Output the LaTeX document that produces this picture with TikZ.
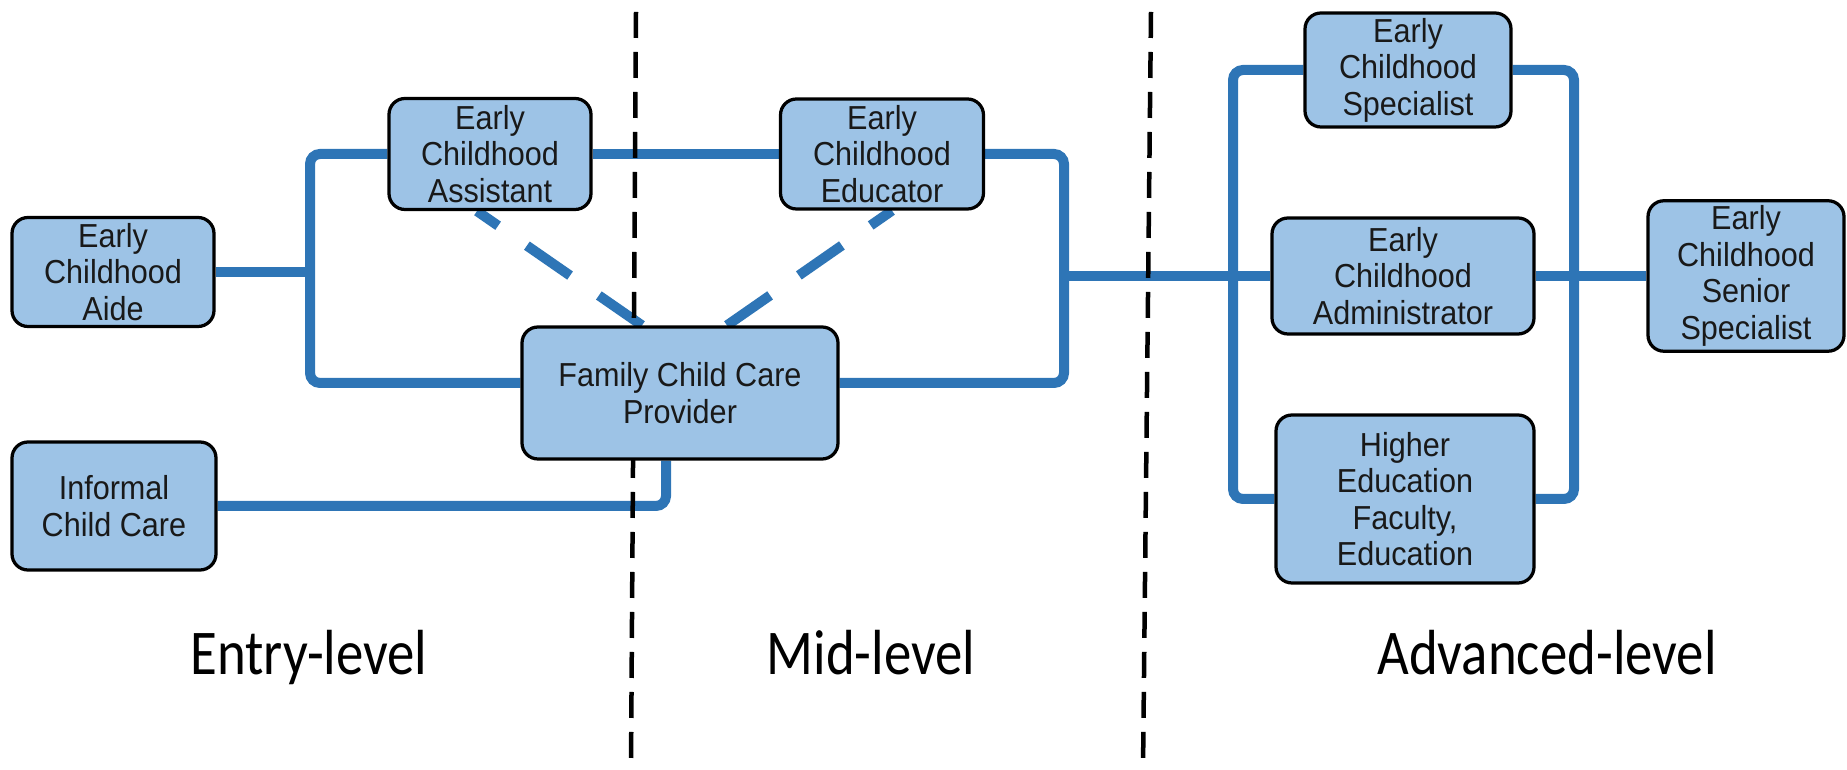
\documentclass[tikz,border=0pt]{standalone}
\usepackage{fontspec}
\newfontfamily\boxfont[FakeStretch=0.92]{Liberation Sans}
\newfontfamily\levelfont[FakeStretch=0.86]{Carlito}
\pgfdeclarelayer{bg}
\pgfdeclarelayer{mid}
\pgfsetlayers{bg,mid,main}
\definecolor{boxfill}{HTML}{9DC3E6}
\definecolor{pathblue}{HTML}{2E75B6}
\begin{document}
\begin{tikzpicture}[x=0.4pt,y=-0.4pt,
  career/.style={draw=black, line width=1.3pt, fill=boxfill, rounded corners=6.4pt,
    align=center, inner sep=2pt, text=black!90,
    font=\boxfont\fontsize{13.3}{14.6}\selectfont},
  conn/.style={draw=pathblue, line width=4pt},
  link/.style={draw=pathblue, line width=4pt, dash pattern=on 21pt off 14pt},
  divider/.style={draw=black, line width=1.8pt, dash pattern=on 10.4pt off 5.6pt},
  level/.style={anchor=base, font=\levelfont\fontsize{25.5}{30}\selectfont}]
\useasboundingbox (0,0) rectangle (1847,770);

% career stages
\node[career, minimum width=202*0.4pt, minimum height=109*0.4pt] (aide) at (113,272) {Early\\Childhood\\Aide};
\node[career, minimum width=202*0.4pt, minimum height=111*0.4pt] (assist) at (490,154) {Early\\Childhood\\Assistant};
\node[career, minimum width=203*0.4pt, minimum height=110*0.4pt] (educ) at (882,154) {Early\\Childhood\\Educator};
\node[career, minimum width=316*0.4pt, minimum height=132*0.4pt] (fcc) at (680,393) {Family Child Care\\Provider};
\node[career, minimum width=204*0.4pt, minimum height=128*0.4pt] (informal) at (114,506) {Informal\\Child Care};
\node[career, minimum width=206*0.4pt, minimum height=114*0.4pt] (spec) at (1408,70) {Early\\Childhood\\Specialist};
\node[career, minimum width=262*0.4pt, minimum height=116*0.4pt] (admin) at (1403,276) {Early\\Childhood\\Administrator};
\node[career, minimum width=258*0.4pt, minimum height=168*0.4pt] (higher) at (1405,499) {Higher\\Education\\Faculty,\\Education};
\node[career, minimum width=196*0.4pt, minimum height=145*0.4pt] (senior) at (1746,276) {Early\\Childhood\\Senior\\Specialist};

% level labels
\node[level] (entry) at (309,675) {Entry-level};
\node[level] (midl) at (871,675) {Mid-level};
\node[level] (adv) at (1547,675) {Advanced-level};

% junction points of the pathways
\coordinate (ltrunk) at (310,272);
\coordinate (rtrunk) at (1064,276);
\coordinate (gleft) at (1233,276);
\coordinate (gright) at (1574,276);

% level dividers
\coordinate (d1top) at (636,12);
\coordinate (d1bot) at (631,770);
\coordinate (d2top) at (1151,12);
\coordinate (d2bot) at (1143,770);
\begin{pgfonlayer}{mid}
  \draw[divider] (d1top) -- (d1bot);
  \draw[divider] (d2top) -- (d2bot);
\end{pgfonlayer}

% pathways
\begin{pgfonlayer}{bg}
  \draw[conn] (aide.east) -- (ltrunk);
  \draw[conn, rounded corners=4pt] (assist.west) -| (ltrunk) |- ([yshift=4pt]fcc.west);
  \draw[conn] (assist.east) -- (educ.west);
  \draw[conn, rounded corners=4pt] (educ.east) -| (rtrunk) |- ([yshift=4pt]fcc.east);
  \draw[conn, rounded corners=4pt] (informal.east) -| ([xshift=-5.6pt]fcc.south);
  \draw[conn] (rtrunk) -- (admin.west);
  \draw[conn, rounded corners=4pt] (spec.west) -| (gleft) |- (higher.west);
  \draw[conn, rounded corners=4pt] (spec.east) -| (gright) |- (higher.east);
  \draw[conn] (admin.east) -- (senior.west);
  \draw[link] ([xshift=-15.2pt]fcc.north) -- ([xshift=-5.2pt]assist.south);
  \draw[link] ([xshift=18.8pt]fcc.north) -- ([xshift=4pt]educ.south);
\end{pgfonlayer}
\end{tikzpicture}
\end{document}
